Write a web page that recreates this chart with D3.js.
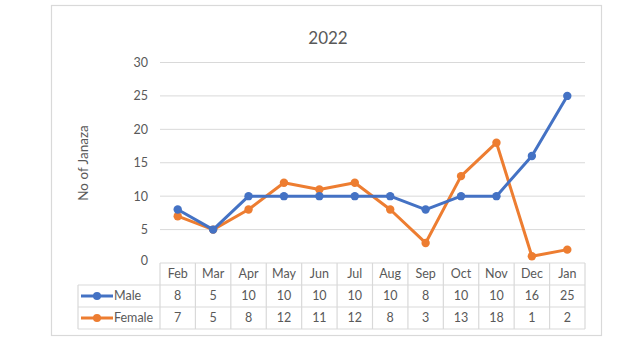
<!DOCTYPE html>
<html><head><meta charset="utf-8">
<script src="https://cdn.jsdelivr.net/npm/d3@7"></script>
<style>body{margin:0;background:#fff}svg{display:block}text{font-family:Lato,"Open Sans",sans-serif;fill:#595959}</style>
</head><body><svg id="c" width="627" height="360"></svg>
<script>
const months = ["Feb","Mar","Apr","May","Jun","Jul","Aug","Sep","Oct","Nov","Dec","Jan"];
const male = [8,5,10,10,10,10,10,8,10,10,16,25];
const female = [7,5,8,12,11,12,8,3,13,18,1,2];
const yTicks = [0,5,10,15,20,25,30];
const title = "2022";
const yTitle = "No of Janaza";
const series = [{name:"Male",values:male,color:"#4472C4"},{name:"Female",values:female,color:"#ED7D31"}];

const svg = d3.select("#c");
const L=160, R=585, T=62.5, B=263, rowH=22, legL=78;
svg.append("rect").attr("x",51.5).attr("y",5.5).attr("width",550).attr("height",330)
  .attr("fill","#fff").attr("stroke","#d9d9d9").attr("stroke-width",1.2);

const x = d3.scaleBand().domain(months).range([L,R]);
const y = d3.scaleLinear().domain([0,30]).range([B,T]);

svg.append("g").selectAll("line").data(yTicks.filter(d=>d>0)).join("line")
  .attr("x1",L).attr("x2",R).attr("y1",d=>y(d)).attr("y2",d=>y(d))
  .attr("stroke","#d9d9d9").attr("stroke-width",1);
svg.append("g").selectAll("text").data(yTicks).join("text")
  .attr("x",148).attr("y",d=>y(d)-(d===0?2:0)).attr("dy","0.35em").attr("text-anchor","end")
  .attr("font-size",12.5).text(d=>d);

svg.append("text").attr("x",328).attr("y",38).attr("dy","0.35em").attr("text-anchor","middle")
  .attr("font-size",17).text(title);
svg.append("text").attr("transform","translate(83,163) rotate(-90)").attr("dy","0.35em")
  .attr("text-anchor","middle").attr("font-size",13.5).text(yTitle);

const tg = svg.append("g").attr("stroke","#d9d9d9").attr("stroke-width",1.2);
tg.append("line").attr("x1",L).attr("x2",R).attr("y1",B).attr("y2",B);
[1,2,3].forEach(i=>tg.append("line").attr("x1",legL).attr("x2",R).attr("y1",B+i*rowH).attr("y2",B+i*rowH));
months.forEach(m=>tg.append("line").attr("x1",x(m)).attr("x2",x(m)).attr("y1",B).attr("y2",B+3*rowH));
tg.append("line").attr("x1",R).attr("x2",R).attr("y1",B).attr("y2",B+3*rowH);
tg.append("line").attr("x1",legL).attr("x2",legL).attr("y1",B+rowH).attr("y2",B+3*rowH);

svg.append("g").selectAll("text").data(months).join("text")
  .attr("x",d=>x(d)+x.bandwidth()/2).attr("y",B+rowH/2).attr("dy","0.35em")
  .attr("text-anchor","middle").attr("font-size",12.5).text(d=>d);
series.forEach((s,si)=>{
  const ry = B+rowH*(si+1)+rowH/2;
  svg.append("g").selectAll("text").data(s.values).join("text")
    .attr("x",(d,i)=>x(months[i])+x.bandwidth()/2).attr("y",ry).attr("dy","0.35em")
    .attr("text-anchor","middle").attr("font-size",12.5).text(d=>d);
  svg.append("line").attr("x1",81).attr("x2",113).attr("y1",ry).attr("y2",ry)
    .attr("stroke",s.color).attr("stroke-width",3);
  svg.append("circle").attr("cx",97).attr("cy",ry).attr("r",4).attr("fill",s.color);
  svg.append("text").attr("x",114).attr("y",ry).attr("dy","0.35em").attr("font-size",12.5).text(s.name);
});

const line = d3.line().x((d,i)=>x(months[i])+x.bandwidth()/2).y(d=>y(d));
[series[1],series[0]].forEach(s=>{
  svg.append("path").datum(s.values).attr("d",line).attr("fill","none")
    .attr("stroke",s.color).attr("stroke-width",3).attr("stroke-linejoin","round");
  svg.append("g").selectAll("circle").data(s.values).join("circle")
    .attr("cx",(d,i)=>x(months[i])+x.bandwidth()/2).attr("cy",d=>y(d)).attr("r",4.2).attr("fill",s.color);
});
</script></body></html>
